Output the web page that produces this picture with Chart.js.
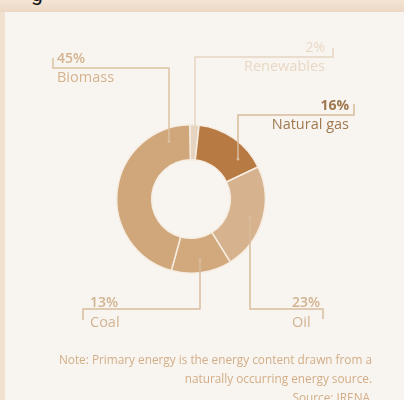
<!DOCTYPE html>
<html>
<head>
<meta charset="utf-8">
<script src="https://cdn.jsdelivr.net/npm/chart.js@4/dist/chart.umd.min.js"></script>
<style>
  body { margin: 0; width: 404px; height: 400px; overflow: hidden; background: #f2e1cf; position: relative; font-family: "Open Sans", sans-serif; }
  #band { position: absolute; left: 0; top: 0; width: 404px; height: 12px; background: linear-gradient(#f3e4d4, #ecd8c5); }
  #panel { position: absolute; left: 5px; top: 12px; right: 0; bottom: 0; background: #f8f5f0; }
  #g { position: absolute; left: 31px; top: -18px; font: 21px Roboto, sans-serif; color: #111; }
  #pie { position: absolute; left: 0; top: 0; }
  .note { position: absolute; right: 32px; font-size: 11.8px; color: #d3ad86; white-space: nowrap; }
</style>
</head>
<body>
<div id="band"></div>
<div id="panel"></div>
<div id="g">g</div>
<canvas id="pie" width="404" height="400"></canvas>
<div class="note" style="top:351px">Note: Primary energy is the energy content drawn from a</div>
<div class="note" style="top:370px">naturally occurring energy source.</div>
<div class="note" style="top:389px; right:34px">Source: IRENA</div>
<script>
// shares of primary energy, clockwise from the top
var categories = ["Renewables", "Natural gas", "Oil", "Coal", "Biomass"]
var shares = [2, 16, 23, 13, 45]
var sliceColors = ["#e6d4c0", "#b77a42", "#d6b38e", "#d1a97d", "#cfa77b"]

// callout layout: where each label sits and where its leader line runs
var callouts = [
  { textX: 325, align: "right", lineX: 195, lineY: 57, tickX: 333, tickTo: 48, color: "#e9d8c5", line: "#e6d5c2", pctWeight: "normal" },
  { textX: 349, align: "right", lineX: 238, lineY: 115, tickX: 354, tickTo: 104, color: "#9f774f", line: "#d8ba9a", pctWeight: "bold" },
  { textX: 292, align: "left", lineX: 250, lineY: 309, tickX: 323, tickTo: 319, color: "#d2b290", line: "#d8bc9c", pctWeight: "600" },
  { textX: 90, align: "left", lineX: 200, lineY: 309, tickX: 83, tickTo: 320, color: "#d2b290", line: "#d8bc9c", pctWeight: "600" },
  { textX: 57, align: "left", lineX: 169, lineY: 68, tickX: 53, tickTo: 58, color: "#d4b28e", line: "#dcc1a3", pctWeight: "600" }
]

var calloutPlugin = {
  id: 'callouts',
  afterDatasetsDraw: function(chart) {
    var ctx = chart.ctx
    var arcs = chart.getDatasetMeta(0).data
    ctx.save()
    callouts.forEach(function(c, i) {
      var arc = arcs[i]
      var r = arc.innerRadius + 0.64 * (arc.outerRadius - arc.innerRadius)
      var dx = c.lineX - arc.x
      var dir = c.lineY < arc.y ? -1 : 1
      var endY = arc.y + dir * Math.sqrt(Math.max(r * r - dx * dx, 0))
      ctx.strokeStyle = c.line
      ctx.lineWidth = 1.5
      ctx.beginPath()
      ctx.moveTo(c.lineX, endY)
      ctx.lineTo(c.lineX, c.lineY)
      ctx.lineTo(c.tickX, c.lineY)
      ctx.lineTo(c.tickX, c.tickTo)
      ctx.stroke()
      ctx.fillStyle = c.line
      ctx.beginPath()
      ctx.arc(c.lineX, endY, 1.5, 0, Math.PI * 2)
      ctx.fill()

      var top = c.lineY < arc.y
      var pctY = top ? c.lineY - 5 : c.lineY - 2
      var nameY = top ? c.lineY + 14 : c.lineY + 18
      ctx.textAlign = c.align
      ctx.textBaseline = "alphabetic"
      ctx.fillStyle = c.color
      ctx.font = c.pctWeight + " 14px 'Open Sans', sans-serif"
      ctx.fillText(shares[i] + "%", c.textX, pctY)
      ctx.font = "14.5px 'Open Sans', sans-serif"
      ctx.fillText(categories[i], c.textX, nameY)
    })
    ctx.restore()
  }
}

var pie = new Chart(document.getElementById("pie").getContext('2d'), {
  type: 'doughnut',
  data: {
    labels: categories,
    datasets: [{
      data: shares,
      backgroundColor: sliceColors,
      borderColor: "#f6ece1",
      borderWidth: 1.5
    }]
  },
  options: {
    responsive: false,
    animation: false,
    rotation: -1,
    cutout: '53%',
    layout: { padding: { left: 116, top: 124, right: 138, bottom: 126 } },
    plugins: { legend: { display: false }, tooltip: { enabled: false } }
  },
  plugins: [calloutPlugin]
})
</script>
</body>
</html>
